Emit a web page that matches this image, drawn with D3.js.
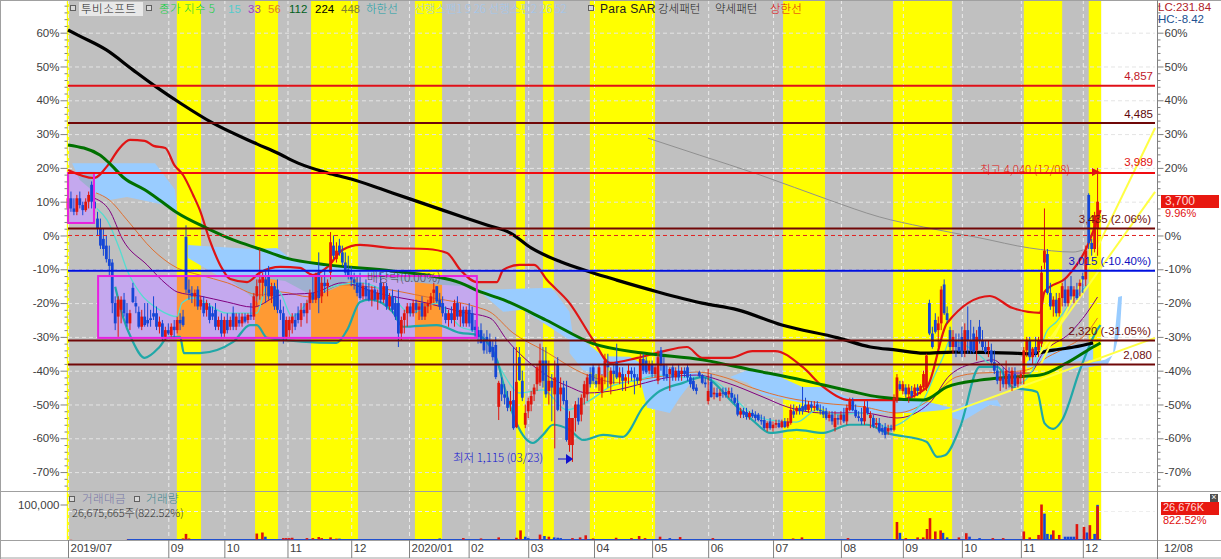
<!DOCTYPE html>
<html><head><meta charset="utf-8">
<script src="https://cdn.jsdelivr.net/npm/d3@7/dist/d3.min.js"></script>
<style>
html,body{margin:0;padding:0;background:#fff;overflow:hidden}
svg{display:block}
text{font-family:"Liberation Sans","Noto Sans CJK KR",sans-serif;font-size:11.5px}
.cjk{font-family:"Noto Sans CJK KR","Liberation Sans",sans-serif;font-weight:300}
</style></head><body><svg id="c" width="1221" height="559"></svg>
<script>
// ---- values (x = trading-session index, y = % from the reference price) ----
const monthLabels=["2019/07","09","10","11","12","2020/01","02","03","04","05","06","07","08","09","10","11","12"];
const monthIdx=[0,34,53,74.4,96,115.6,135.8,156,178.3,198,217,239,262,283,303,323,344];
const yellowBands=[[-0.4,0.4],[36.9,45.1],[63.4,71.2],[82.4,98.3],[117.6,126.8],[151.9,154.9],[161,164.7],[176.9,199],[242.4,256.6],[279.7,299.7],[324,337],[346,350.2]];
const majorPct=[60,50,40,30,20,10,0,-10,-20,-30,-40,-50,-60,-70];
const rightPct=[60,50,40,30,20,0,-10,-20,-30,-40,-50,-60,-70];
const minorPct=[68,66,64,62,58,56,54,52,48,46,44,42,38,36,34,32,28,26,24,22,18,16,14,12,8,6,4,2,-2,-4,-6,-8,-12,-14,-16,-18,-22,-24,-26,-28,-32,-34,-36,-38,-42,-44,-46,-48,-52,-54,-56,-58,-62,-64,-66,-68,-72,-74];
const priceLinesPct=[44.31,33.26,18.5,2.06,-10.4,-31.05,-38.2];
const priceLineColors=["#e01018","#700808","#f00c10","#700808","#0010e0","#700808","#700808"];
const ma224=[[0,60.8],[4,59],[13,54.9],[22,49],[30,43.9],[38,39.2],[49,33.3],[64,27.1],[71,24.4],[78,21.4],[88,18.5],[96,16.7],[106,13.8],[110,12.6],[127,7.5],[142,3.1],[150,0.7],[157,-3.7],[167,-7.8],[177,-10.8],[186,-13.2],[200,-16.7],[215,-20],[227,-22],[242,-26.5],[261,-30.3],[272,-33],[281,-33.9],[290,-34.8],[300,-34.5],[320,-34.8],[326,-35],[334,-33.9],[341,-33],[347.5,-31.8]];
const ma112=[[0,26.8],[10.8,23.8],[14,21.4],[19,17],[26,13.5],[31,10.5],[37,6.7],[47,2.2],[56,-1.3],[65,-4],[74,-6.7],[88,-8.7],[110,-10.5],[133,-14],[139,-16.4],[147.5,-19],[162,-25],[178,-32],[195,-34.8],[215,-36.8],[232,-39.8],[249,-42.8],[265,-46],[275,-47.8],[290,-48.7],[298,-44.8],[309,-42.8],[320,-41.9],[329.5,-41.3],[338.6,-37.7],[347.5,-33],[350,-31.8]];
const upperBand=[[0,19.4],[8.8,17],[13.6,20.9],[17,25.3],[21,28.3],[26,28],[29,26.5],[33,25.9],[36,20.9],[39,17.9],[42.4,12],[44.7,7.5],[48,-1.3],[52.5,-10.2],[55,-12.9],[60.7,-13.8],[65,-11],[72,-9.3],[78.6,-9.6],[83,-11.7],[88,-9.3],[93,-4.3],[99,-2.8],[110,-3.7],[121.7,-4],[128.5,-5.2],[133,-10.2],[138.6,-13.8],[145.4,-13.8],[147.5,-10.2],[153,-8.7],[158,-8.7],[162.4,-13.2],[170,-20],[178,-30.9],[183.7,-37.7],[193,-36.2],[200.7,-34.5],[209.8,-33],[215,-36.2],[224.4,-36.2],[232,-34.2],[239.7,-34.2],[249,-38.9],[256,-44.8],[265,-48.7],[281,-48.7],[291,-45.1],[298,-25.9],[312.5,-17.9],[320,-21.4],[329.5,-22.9],[331,-16.7],[338.6,-12.3],[345.4,-3.4],[350,7.5]];
const lowerBand=[[16,-15.2],[18.6,-24],[21.7,-30.9],[26,-36.2],[31,-33],[33.6,-30.3],[38,-30],[39.3,-34.8],[44.7,-34.8],[56,-31.5],[61.7,-26.5],[64,-26.5],[67.5,-30.3],[91,-31.8],[94.6,-28],[99,-19.7],[102.4,-19],[110,-22.6],[113.6,-27],[125,-26.5],[133,-28.8],[138.6,-29.4],[145.4,-36.8],[147.5,-43.6],[152,-55.5],[157.6,-61.4],[161,-59],[164.4,-56],[170,-57.5],[174.6,-60.5],[181.4,-59],[188,-59.6],[195,-50.7],[199.7,-46.6],[208.5,-43.6],[215,-41.9],[226.8,-50.7],[232,-54.6],[238,-58.4],[247,-57.5],[256,-58.4],[265,-56],[270.8,-56],[277.6,-58.4],[291,-61],[294.6,-65.5],[297.3,-65],[302.4,-56.7],[309,-38.9],[315,-38.9],[320,-44.8],[328.5,-46.3],[331,-55.5],[334,-57.2],[337,-54.6],[343,-39.8],[348.8,-28],[350,-26.5]];
const ma56=[[9.5,12.6],[14,10.5],[20,4.6],[28.8,-4.3],[37,-9.6],[44.7,-11.7],[54,-14],[65,-17.6],[72,-16.7],[82,-18.2],[93,-14.6],[104.7,-15.5],[121.7,-18.2],[138.6,-21.2],[143,-22.6],[150.8,-28.8],[161,-33.9],[176,-41.3],[187,-43.6],[193,-42.8],[204,-41.3],[213,-40.4],[223.4,-42.2],[232,-45.1],[243.7,-48],[256,-49.6],[269.5,-50.7],[281,-52.5],[292,-48.7],[301,-41.9],[309,-40.7],[318,-40.4],[325,-39.8],[332,-36],[338.6,-33],[345.4,-28.8],[349,-24.4]];
const ma33=[[9,11],[14,7.5],[18.6,-1.3],[26.8,-8.7],[33.6,-14.6],[37,-16.7],[44.7,-17.9],[54,-19.7],[62.7,-21.2],[72,-17.6],[83,-17],[93,-14],[104.7,-17],[121.7,-20],[133,-22.6],[143,-24.4],[148.8,-30.9],[161,-40.7],[170,-44.8],[176,-46.6],[186,-45.7],[193,-44.2],[204,-41.9],[213,-41.3],[223.4,-43.6],[235.6,-47.8],[243.7,-50.7],[256,-52.5],[269.5,-52.5],[281,-54],[292,-49.6],[299,-41.3],[309,-37.4],[313.6,-36.8],[320,-40.7],[326,-40.7],[330.5,-34.8],[339.7,-28.8],[345.4,-22.9],[349,-18.2]];
const ma15=[[9.8,8],[13.2,4.6],[17.6,-4.3],[20,-10.2],[24.4,-17],[31,-22],[37,-24],[38.6,-20],[42.4,-18.5],[54,-23],[64,-23],[67.5,-14.6],[72,-17],[76,-24],[82,-19],[92,-14.6],[99,-14],[110,-18.2],[116,-23],[125,-20],[133,-27],[138.6,-28.8],[143,-33],[147.5,-40.7],[153,-46.6],[161,-45.7],[169,-51.6],[177,-48.7],[183.7,-44.8],[193,-42.8],[199.7,-41.3],[208.5,-41.9],[215,-41.9],[224.4,-46.6],[230,-51.6],[238,-54.6],[247,-55.2],[254,-51.6],[260.7,-53],[269.5,-52.5],[277.6,-56.7],[290,-48.7],[293,-42.8],[296.6,-36],[299,-31],[306.8,-33.9],[313.6,-38.9],[322.7,-43.6],[327,-39.8],[332,-28],[335,-25.6],[339.7,-20],[346.4,-14]];
const ma448=[[196.6,28.8],[214,23.8],[234.6,17.9],[258,10.5],[275,5.5],[290,2.5],[309,-0.7],[326,-3.7],[340.7,-4.9],[344,-4.3]];
const trendLow=[[299.7,-52.2],[368.5,-30.3]];
const trendMid=[[328.5,-36],[368.5,12.9]];
const trendHigh=[[329.5,-38.6],[368.5,31.8]];
const cloud1=[[1.4,21.4],[29.5,21.4],[36.3,13.5],[37,6.7],[38.3,5.5],[32.9,9],[20,11.4],[14.2,10.5],[9.2,12.6],[4,16.4]];
const cloud2=[[40.7,-2.8],[45.8,-3.1],[62.7,-4],[70.8,-3.7],[75.3,-6.7],[87.8,-8.7],[110.2,-10.5],[126,-12],[138.6,-15.2],[126,-14.6],[110.2,-13.2],[99,-12.3],[83.7,-18.2],[73.6,-13.5],[65.8,-12.6],[64.4,-20],[60.7,-17],[53.9,-12.6],[50.5,-11.7],[44.7,-8.7],[40.7,-6.7]];
const cloud3=[[139,-16.1],[164,-15.5],[170,-22.6],[171,-28.8],[178,-33.3],[182.7,-36.8],[182.7,-41.9],[174.6,-39.8],[170,-34.8],[170,-30.9],[154.2,-22],[147.5,-22.6]];
const cloud4=[[183,-35.7],[190.5,-35.9],[194,-37.7],[213.2,-40.4],[213.2,-41.3],[207.5,-47.8],[204,-52.5],[196.3,-51],[194,-42.8],[183.7,-40.7]];
const cloud5=[[224.4,-41.9],[232.2,-39.2],[241.4,-41.9],[249,-44.8],[256,-44.8],[265,-48],[288.8,-48.7],[299.7,-51],[296.6,-51.6],[286.4,-52.5],[268.5,-52.5],[260.7,-52.5],[249,-49.6],[235.6,-47.2],[230.2,-43.6]];
const cloud6=[[299.7,-52.2],[304.7,-49.6],[315,-48.7],[316.3,-50.7],[312.5,-50.1],[303.4,-54.9],[300,-54]];
const cloud7=[[325,-37.4],[329.5,-33.9],[347.5,-31.5],[347.5,-36.8],[329.5,-38.3],[325,-39.2]];
const cloud8=[[336.3,-40.4],[347.5,-37.4],[351.5,-36.8],[354.2,-35.4],[356,-18.2],[357.3,-17.9],[356.6,-28],[355,-33.9],[352.5,-38]];
const patternBoxes=[[0,8.8,18.5,3.7],[10.2,138.6,-12,-30.3]];
// open, high, low, close per session
const candles=[[8,12,6,11],[11,13,7,8],[8,11,6,7],[7,12,6,11],[11,13,8,9],[9,10,6,7.5],[7.5,11,7,10],[10,13,8,12],[15,16,8,10],[10,12,6,8],
[5,7,0,2],[2,5,-4,-3],[-1,2,-6,-4],[-3,0,-8,-7],[-7,-3,-12,-9],[-8,-7,-23,-20],[-20,-18,-28,-26],[-24,-18,-30,-19],[-22,-18,-26,-19],[-19,-17,-24,-23],
[-23,-20,-27,-26],[-26,-22,-28,-23],[-15.5,-14,-20,-19.7],[-20,-18,-23,-21],[-22.6,-21,-27.5,-27],[-27,-22,-28,-24],[-24,-20,-27,-26.5],[-25,-20,-27,-26],[-24.5,-22,-27,-25],[-23,-18,-25,-24],
[-23,-21,-28,-27],[-27,-24,-29,-25.5],[-26,-25,-31,-30],[-30,-27,-31,-28],[-28,-26,-29.5,-29],[-29.5,-26,-30,-27],[-27,-25,-30,-28],[-28,-24,-29,-25],[-25,-23,-28,-26],[-24,-22,-27,-26.5],
[-0.4,3,-17,-16],[-16,-13,-19,-17],[-17,-15,-20,-18],[-18,-16,-21,-17],[-16,-15,-22,-21],[-21,-18,-22,-19],[-20,-18,-24,-23],[-22,-19,-24,-20],[-21,-20,-26,-25],[-23,-21,-25,-24],
[-22,-20,-28,-27],[-27,-24,-28,-25],[-25,-23,-30,-29],[-29,-24,-30,-25],[-25,-23,-29,-28],[-27,-24,-28,-25],[-23,-21,-28,-27],[-27,-23,-28,-24],[-25,-23,-27,-26],[-26,-23,-27,-24],
[-24,-23,-26,-25.5],[-25,-23,-26,-23.5],[-23.5,-20,-25,-24],[-24,-17,-25,-18],[-18,-13,-21,-15],[-14,-4,-19,-13],[-14,-11,-18,-12],[-13,-10,-20,-15],[-12,-9,-19,-18],[-18,-14,-20,-15],
[-15,-14,-22,-21],[-16,-13,-23,-22],[-22,-19,-25,-23],[-23,-21,-32,-30],[-30,-24,-31,-25],[-28,-24,-30,-25],[-26,-23,-29,-24],[-25,-23,-28,-27],[-23,-21,-26,-25],[-25,-20,-27,-22],
[-22,-20,-24,-23],[-23,-19,-26,-20],[-20,-16,-22,-17],[-17,-12,-20,-19],[-19,-11,-20,-12],[-11,-5,-23,-18.5],[-18,-12,-20,-14],[-14,-10,-17,-15],[-15,-13,-18,-14],[-11,1,-13,-2],
[-3,0,-7,-6],[-7,-2,-8,-4.5],[-3,-1,-6,-5],[-5,-3,-9,-8],[-8,-5,-12,-11],[-10,-6,-13,-12],[-12,-9,-15,-13],[-13,-11,-16,-14],[-14,-12,-18,-17],[-14,-11,-19,-18.5],
[-18,-14,-19,-15],[-15,-13,-19,-18],[-16,-14,-19.5,-19],[-19,-15,-21,-16],[-16,-15,-19.5,-19],[-19,-16,-22,-17],[-14,-11,-20,-19],[-19,-14,-20,-15],[-15,-14,-22,-21],[-21,-17,-22,-18],
[-18,-16,-23,-22],[-20,-18,-25,-24],[-20,-16,-33,-29],[-29,-24,-31,-25],[-25,-22,-29,-23],[-23,-20,-27,-21],[-21,-20,-24,-23],[-23,-19,-24,-20],[-20,-19,-23,-22],[-22,-20,-25,-21],
[-20,-18,-25,-24],[-24,-20,-25,-21],[-21,-19,-23,-20],[-20,-17,-22,-18],[-17,-14,-20,-16],[-15,-15,-20,-19.5],[-19,-17,-22,-21],[-20,-18,-24,-23],[-23,-21,-26,-25],[-25,-22,-27,-23],
[-23,-21,-26,-25],[-25,-19,-27,-20],[-20,-18,-25,-24],[-24,-20,-27,-22],[-22,-21,-27,-26],[-26,-21,-27,-22],[-22,-20,-27,-26],[-23,-21,-28.5,-28],[-27,-25,-30,-28],[-28,-27,-32,-30],
[-28,-26,-32,-31.8],[-31,-29,-35,-34],[-30,-28,-35,-31],[-31,-29,-35,-34.5],[-33,-31,-37,-36],[-32.4,-30,-42.5,-41.9],[-50.7,-43,-54.6,-43.6],[-44,-42,-49,-47],[-47,-44,-50,-48],[-48,-46,-52,-51],
[-50,-46,-52,-49],[-48.7,-33,-57.5,-57],[-56.7,-33,-57,-43.3],[-36,-33,-43,-42.8],[-43,-40,-49,-48],[-56,-50,-57,-52.5],[-52,-48,-54,-49],[-50,-46,-52,-47.5],[-47,-44,-49,-45],[-44,-38,-46,-39],
[-43.5,-32,-44.5,-37],[-37,-33,-45,-43],[-37,-33,-48,-47],[-46,-37,-50,-43],[-43,-41,-55,-45],[-47,-37,-63,-42],[-38,-36,-52,-51.6],[-47,-42,-52,-45],[-45,-43,-50,-49],[-48.7,-43,-61,-60.5],
[-62,-52,-64,-54],[-62,-54,-67,-54],[-54,-49,-58,-50],[-50,-48,-56,-55],[-53,-47,-55,-48],[-48,-43,-50,-44],[-47,-41,-49,-42],[-41,-39,-45,-44],[-39,-38,-44,-43],[-43,-41,-45,-44],
[-44,-38,-46,-39],[-46.6,-41,-48,-42],[-42,-35,-44,-37],[-38,-35,-45,-39],[-44,-39,-47,-40],[-40,-38,-44,-41],[-37.5,-32,-42.5,-42],[-42,-39,-44,-40.5],[-41,-39,-46,-43],[-43,-41,-46,-42],
[-41,-38,-44,-40],[-40,-39,-43,-41],[-41,-39,-47,-42],[-42,-41,-44,-43],[-43,-35,-45,-36.5],[-36.5,-35,-41,-40],[-37,-36,-41,-40.5],[-40,-37,-41,-38],[-38,-37,-42,-41],[-41,-38,-42,-39],
[-43,-34,-44,-36],[-34,-33,-40,-38.5],[-38,-36,-43,-41.5],[-41,-38,-43,-42],[-41,-39,-46,-39.5],[-39,-38,-43,-42],[-42,-39,-43,-40],[-40,-38,-43,-42],[-41,-39,-43,-40],[-40,-39,-42,-41],
[-39,-38,-43,-42],[-42,-41,-45,-44],[-43,-42,-46,-45.5],[-45,-44,-47,-46],[-40.5,-40,-42,-41.5],[-41.3,-41,-44,-43.6],[-43.5,-42,-45,-44],[-49,-39.5,-50,-46],[-43.3,-41,-48,-47.8],[-47,-45,-48.5,-46.5],
[-46.6,-45,-48,-47.8],[-47.5,-45.5,-49,-46.5],[-46.5,-45,-48,-46.8],[-46.3,-45,-48,-47.2],[-47,-45,-48,-46],[-46.6,-45,-49,-48],[-48,-47,-50,-49.5],[-49.6,-47,-53.5,-53],[-53,-51,-54,-52],[-52,-51,-54,-53],
[-52.2,-51,-54.5,-53.7],[-53.7,-52,-54.5,-52.5],[-52.5,-51.5,-54,-53.5],[-53,-52,-55,-54],[-53,-52.5,-55,-54.6],[-54.6,-53,-56,-55],[-54.6,-53.5,-57.5,-57],[-57,-55,-58,-55.5],[-55,-54,-57.5,-57],[-57,-55,-58,-56],
[-56,-54.5,-57,-55.5],[-55.5,-54.5,-57,-56.7],[-56.7,-54.5,-57,-55],[-55,-54,-57,-56.7],[-56.5,-54,-57,-55],[-55.5,-50,-56,-51.6],[-52,-50,-54,-53],[-52,-50.5,-53,-51],[-51,-50,-53,-52],[-50.5,-44.8,-53,-52],
[-50,-48,-52,-51.6],[-51.6,-49,-52.5,-50],[-50,-49,-52,-51],[-51,-49,-52,-50.5],[-50,-49,-52,-51.6],[-51.6,-50,-53,-52],[-52,-50.5,-54,-53],[-52,-51,-54.5,-54],[-54,-52,-55,-53],[-53,-52,-56,-55],
[-56.7,-52,-58,-54],[-54,-53,-56,-54.5],[-54.5,-52,-56,-53],[-53,-51,-55.5,-55],[-55,-50,-56,-51],[-51.6,-48,-52,-49],[-49,-48,-52,-51.7],[-51.6,-50,-54,-53.5],[-53.5,-52,-55,-54],[-54,-51,-56,-55],
[-55,-49,-56,-50.5],[-51,-49,-53,-52.5],[-54,-52,-57,-53],[-54,-53,-57,-56.5],[-56,-54,-57,-55.5],[-55.5,-54,-58.5,-58],[-57,-56,-59,-58],[-56.7,-55.5,-60,-59],[-58,-56,-59,-57],[-57,-56,-58,-57.5],
[-57.5,-47,-58,-48],[-48.7,-41,-49.5,-42],[-44,-43,-46,-45.5],[-46,-43,-47,-44],[-45,-44,-48,-47],[-47,-44,-49.5,-45],[-46,-44.5,-48,-47.5],[-47,-44,-48,-45],[-45,-44,-47.5,-46],[-46,-44,-47,-44.5],
[-45,-40,-46,-41],[-45,-35,-46,-35.5],[-20,-19,-29.5,-29],[-29,-27,-33.5,-33],[-25,-23,-29,-28.5],[-28,-24,-33,-26],[-26,-15,-28,-16],[-14.5,-13,-23.5,-23],[-23,-21,-26,-25],[-28,-27,-34,-33],
[-33,-28,-35,-30],[-31,-29,-36,-33],[-33,-29,-34.5,-34],[-30,-27,-36,-35],[-34,-26,-36,-28],[-28,-21,-35,-31],[-31,-25,-35,-34],[-29,-27,-35,-34.5],[-34,-28,-37,-30],[-27,-25,-32,-31],
[-31,-28,-34,-33],[-33,-31,-35,-34.5],[-34,-31,-36,-33],[-34,-32,-38,-37.5],[-37.5,-34,-41,-40],[-40,-38,-44,-43],[-43,-40,-46,-42],[-42,-39,-45,-44],[-44,-37,-45.5,-40],[-41,-39,-45,-44],
[-44,-39,-46,-40],[-41,-39,-45,-44.5],[-44,-41,-45,-42],[-42,-40,-44,-41],[-41,-33,-44,-34],[-34,-30,-36,-31],[-31,-30,-37,-36],[-36,-33,-38,-33.5],[-33,-30,-36,-35],[-34,-30,-36,-31],
[-32,-9,-33,-11],[-8,8,-10,-4.5],[-5.5,-4,-17.5,-17],[-17,-14,-22,-21],[-21,-18,-24,-19],[-19,-17,-24,-23],[-23,-17,-24,-18.5],[-18.5,-14,-21,-15],[-16,-13,-21,-20],[-20,-15,-21,-16],
[-15,-12,-19,-18],[-18,-15,-20,-16],[-16,-14,-19,-18.5],[-15,-13,-18,-14],[-12,-11,-17,-13],[-13,-3,-15,-4.5],[12,12.5,-4,-2.2],[-2.2,-1,-6,-4],[-4,7,-5,6],[2,20,-6,10]];
// session index, trading value (bars in the lower panel)
const volumeRed=[[1,600],[20,500],[39,3000],[40,16000],[41,3000],[64,17000],[65.9,20000],[73,4000],[74,4000],[75,4000],[76,5000],[81,4000],[83,4000],[85,7000],[86,4000],[89,6000],[91,2500],[134,4000],[140,3000],[146,6000],[152,5000],[153.4,26000],[160,14000],[163,8000],[171,4000],[173.6,6000],[175.5,12000],[178,3000],[185.8,5000],[191,4000],[193.6,10000],[195.6,4000],[200.7,8000],[207.5,7000],[218.6,4000],[245.8,3000],[248.8,6000],[264.4,4000],[281,50000],[284,4000],[288,6000],[289.9,6000],[291.2,30000],[292.2,61000],[294,23000],[295.8,26000],[302,6000],[304.5,18000],[313.5,4000],[317,4000],[324,23000],[326,6000],[329,13000],[330,100000],[334,26000],[336,13000],[342,44000],[344.4,36000],[346.4,41000],[349,95000]];
const volumeBlue=[[66.9,8000],[92,2500],[126,3000],[155,8000],[156,4000],[161.5,10000],[164.8,6000],[166,5000],[167,4000],[204,4000],[282,19000],[296.6,19000],[298,6000],[305.6,8000],[309,4000],[331,74000],[332,16000],[333.3,14000],[338,8000],[339,8000],[340,8000],[341,8000],[345.4,20000],[348,16000],[349,99000]];
const volTicks=[100000];

// ---- scales ----
const W=1221,H=559;
const x=d3.scaleLinear().domain([0,368.47]).range([68,1155]);
const y=d3.scaleLinear().domain([69.67,-75.6]).range([0,491]);
const v=d3.scaleLinear().domain([0,100000]).range([539.5,504.5]);
const svg=d3.select("#c");
const TOP=0,MID=491,VT=492,VB=540;
const plotR=x(350.2);

// ---- backgrounds ----
function bg(y0,y1){
  svg.append("rect").attr("x",x(0)).attr("y",y0).attr("width",plotR-x(0)).attr("height",y1-y0).attr("fill","#c0c0c0");
  svg.append("g").selectAll("rect").data(yellowBands).join("rect")
    .attr("x",d=>x(d[0])).attr("width",d=>x(d[1])-x(d[0])).attr("y",y0).attr("height",y1-y0).attr("fill","#ffff00");
}
bg(TOP,MID);bg(VT,VB);

// grid
const grid=svg.append("g");
grid.selectAll(".h").data(majorPct.filter(d=>d!==0)).join("line").attr("x1",x(0)).attr("x2",1155)
  .attr("y1",d=>y(d)+.5).attr("y2",d=>y(d)+.5).attr("stroke",d=>"#e4e4e4").attr("stroke-dasharray","4,3");
grid.selectAll(".v").data(monthIdx).join("line").attr("x1",d=>x(d)+.5).attr("x2",d=>x(d)+.5)
  .attr("y1",0).attr("y2",VB).attr("stroke","#ebebeb").attr("stroke-dasharray","4,3");
grid.append("line").attr("x1",x(0)).attr("x2",1155).attr("y1",511.5).attr("y2",511.5).attr("stroke","#eeeeee").attr("stroke-dasharray","4,3");

// cloud
const poly=d3.line().x(d=>x(d[0])).y(d=>y(d[1]));
const clouds=[cloud1,cloud2,cloud3,cloud4,cloud5,cloud6,cloud7,cloud8];
svg.append("g").selectAll("path").data(clouds).join("path").attr("d",d=>poly(d)+"Z").attr("fill","#99ccff");

// pattern boxes
const defs=svg.append("defs");
patternBoxes.forEach((b,k)=>{
  defs.append("clipPath").attr("id","box"+k).append("rect")
   .attr("x",x(b[0])).attr("y",y(b[2])).attr("width",x(b[1])-x(b[0])).attr("height",y(b[3])-y(b[2]));
  const g=svg.append("g").attr("clip-path",`url(#box${k})`);
  g.append("rect").attr("x",x(b[0])).attr("y",y(b[2])).attr("width",x(b[1])-x(b[0])).attr("height",y(b[3])-y(b[2])).attr("fill","#c4a8ee");
  g.selectAll(".o").data(yellowBands).join("rect").attr("x",d=>x(d[0])).attr("width",d=>x(d[1])-x(d[0]))
    .attr("y",y(b[2])).attr("height",y(b[3])-y(b[2])).attr("fill","#ff9a33");
  g.selectAll(".c").data(clouds).join("path").attr("d",d=>poly(d)+"Z").attr("fill","#9fb0d0");
});

// moving averages and bands
const smooth=d3.line().curve(d3.curveMonotoneX).x(d=>x(d[0])).y(d=>y(d[1]));
const lines=[[ma448,"#909090",1],[ma56,"#e07030",1],[ma33,"#800080",1],[ma15,"#55dcd0",1.3],[lowerBand,"#20a8a8",2.2],[upperBand,"#e01414",2.2],[ma112,"#007000",3],[ma224,"#000000",3.2],[trendLow,"#ffff44",2],[trendMid,"#ffff44",2],[trendHigh,"#ffff44",2]];
svg.append("g").attr("fill","none").selectAll("path").data(lines).join("path")
  .attr("d",d=>smooth(d[0])).attr("stroke",d=>d[1]).attr("stroke-width",d=>d[2]);

// candles
const UP="#e0140c",DN="#1546d6";
const cg=svg.append("g").selectAll("g").data(candles).join("g");
cg.append("line").attr("x1",(d,i)=>x(i)).attr("x2",(d,i)=>x(i)).attr("y1",d=>y(d[1])).attr("y2",d=>y(d[2]))
  .attr("stroke",d=>d[3]>=d[0]?UP:DN).attr("stroke-width",1);
cg.append("rect").attr("x",(d,i)=>x(i)-1.4).attr("width",2.8)
  .attr("y",d=>y(Math.max(d[0],d[3]))).attr("height",d=>Math.max(1,Math.abs(y(d[0])-y(d[3]))))
  .attr("fill",d=>d[3]>=d[0]?UP:DN);

// pattern box outlines
svg.append("g").selectAll("rect").data(patternBoxes).join("rect")
  .attr("x",d=>x(d[0])).attr("y",d=>y(d[2])).attr("width",d=>x(d[1])-x(d[0])).attr("height",d=>y(d[3])-y(d[2]))
  .attr("fill","none").attr("stroke","#e820e0").attr("stroke-width",2);

// price lines
svg.append("g").selectAll("line").data(priceLinesPct).join("line").attr("x1",x(0)).attr("x2",1155)
  .attr("y1",d=>y(d)).attr("y2",d=>y(d)).attr("stroke",(d,i)=>priceLineColors[i]).attr("stroke-width",2);
svg.append("line").attr("x1",x(0)).attr("x2",1155).attr("y1",y(0)).attr("y2",y(0)).attr("stroke","#e02020").attr("stroke-dasharray","4,3");

// volume
svg.append("line").attr("x1",x(20)).attr("x2",plotR).attr("y1",v(0)).attr("y2",v(0)).attr("stroke","#2050d0");
const volG=svg.append("g");
volG.selectAll(".b").data(volumeBlue).join("rect").attr("x",d=>x(d[0])-1.3).attr("width",2.6)
  .attr("y",d=>v(d[1])).attr("height",d=>v(0)-v(d[1])).attr("fill",DN);
volG.selectAll(".r").data(volumeRed).join("rect").attr("x",d=>x(d[0])-1.3).attr("width",2.6)
  .attr("y",d=>v(d[1])).attr("height",d=>v(0)-v(d[1])).attr("fill",UP);

// frame lines
const fr="#a0a0a0";
svg.append("line").attr("x1",0).attr("x2",W).attr("y1",.5).attr("y2",.5).attr("stroke",fr);
svg.append("line").attr("x1",.5).attr("x2",.5).attr("y1",0).attr("y2",H).attr("stroke",fr);
svg.append("line").attr("x1",0).attr("x2",W).attr("y1",MID+.5).attr("y2",MID+.5).attr("stroke",fr);
svg.append("line").attr("x1",0).attr("x2",W).attr("y1",VB+.5).attr("y2",VB+.5).attr("stroke",fr);
svg.append("line").attr("x1",0).attr("x2",W).attr("y1",H-1).attr("y2",H-1).attr("stroke",fr);
svg.append("line").attr("x1",1157.5).attr("x2",1157.5).attr("y1",0).attr("y2",H).attr("stroke","#808080");

// axes
function styleAxis(g){g.selectAll("path").remove();g.selectAll("line").attr("stroke","#808080");g.selectAll("text").attr("fill","#404040");}
svg.append("g").attr("transform","translate(67.5,0)").call(d3.axisLeft(y).tickValues(majorPct).tickSize(7).tickPadding(1).tickFormat(d=>d+"%")).attr("font-family",null).attr("font-size",null).call(styleAxis);
svg.append("g").attr("transform","translate(67.5,0)").call(d3.axisLeft(y).tickValues(minorPct).tickSize(3).tickFormat("")).call(styleAxis);
svg.append("g").attr("transform","translate(1157.5,0)").call(d3.axisRight(y).tickValues(rightPct).tickSize(6).tickPadding(1).tickFormat(d=>d+"%")).attr("font-family",null).attr("font-size",null).call(styleAxis);
svg.append("g").attr("transform","translate(1157.5,0)").call(d3.axisRight(y).tickValues(minorPct).tickSize(3).tickFormat("")).call(styleAxis);
svg.append("g").attr("transform","translate(67.5,0)").call(d3.axisLeft(v).tickValues(volTicks).tickSize(7).tickPadding(1).tickFormat(d3.format(","))).attr("font-family",null).attr("font-size",null).call(styleAxis);
const xa=svg.append("g").attr("transform",`translate(0,${VB})`).call(d3.axisBottom(x).tickValues(monthIdx).tickSize(18).tickFormat((d,i)=>monthLabels[i])).attr("font-family",null).attr("font-size",null).call(styleAxis);
xa.selectAll("text").attr("text-anchor","start").attr("x",2).attr("y",3).attr("dy","0.8em");

// texts
function T(t,px,py,col,o={}){const e=svg.append("text").attr("x",px).attr("y",py).attr("fill",col).attr("dominant-baseline","middle").text(t);
  if(o.a)e.attr("text-anchor",o.a); if(o.cjk)e.attr("class","cjk"); if(o.s)e.style("font-size",o.s+"px"); if(o.ls)e.style("letter-spacing",o.ls+"px"); return e;}
function mark(px,py){svg.append("rect").attr("x",px-2.5).attr("y",py-2.5).attr("width",5).attr("height",5).attr("fill","#d8d8d8").attr("stroke","#606060");}
const LY=10;
mark(73,8);
svg.append("rect").attr("x",79).attr("y",2).attr("width",64).attr("height",14).attr("fill","#e8e8e8");
T("투비소프트",81,LY,"#202020",{cjk:1,s:11.5,ls:.5});
mark(149,8);
T("종가 지수 5",159,LY,"#10d040",{cjk:1,s:11.5,ls:.4});
T("15",228,LY,"#55cccc",{});
T("33",248,LY,"#a040c0",{});
T("56",268,LY,"#e08020",{});
T("112",289,LY,"#006020",{});
T("224",315,LY,"#000000",{});
T("448",341,LY,"#808030",{});
T("하한선",366,LY,"#20a0a8",{cjk:1,s:11.5});
T("선행스팬1  9  26 선행스팬2  26  52",414,LY,"#a0c8f0",{cjk:1,s:11.5});
mark(591,8);
T("Para SAR",600,LY,"#202020",{s:12,ls:.3});
T("강세패턴",658,LY,"#202020",{cjk:1,s:11.5});
T("약세패턴",715,LY,"#202020",{cjk:1,s:11.5});
T("상한선",770,LY,"#e01010",{cjk:1,s:11.5});
T("LC:231.84",1158,8,"#b02028");
T("HC:-8.42",1158,20,"#205090");
T("4,857",1153,77,"#c01828",{a:"end"});
T("4,485",1153,115,"#600808",{a:"end"});
T("3,989",1153,163,"#e01010",{a:"end"});
T("최고 4,040 (12/08)",980,171,"#e01010",{cjk:1,s:11.5});
T("3,435 (2.06%)",1151,220,"#701010",{a:"end"});
T("3,015 (-10.40%)",1151,262,"#1010c0",{a:"end"});
T("2,320 (-31.05%)",1151,332,"#701010",{a:"end"});
T("2,080",1152,356,"#701010",{a:"end"});
T("배당락(0.00%)",367,279,"#504050",{cjk:1,s:12});
T("최저 1,115 (03/23)",453,459,"#1010d0",{cjk:1,s:11.5});
// arrows
svg.append("path").attr("d","M1092,168L1100,172L1092,176Z").attr("fill","#e01010");
svg.append("line").attr("x1",558).attr("x2",568).attr("y1",459).attr("y2",459).attr("stroke","#1010d0");
svg.append("path").attr("d","M566,454L573,459L566,464Z").attr("fill","#1010d0");
// right tags
svg.append("rect").attr("x",1161).attr("y",195).attr("width",58).attr("height",13).attr("fill","#e81810");
T("3,700",1165,201.5,"#ffd8d8",{s:12});
T("9.96%",1165,214,"#e01010",{s:11});
svg.append("rect").attr("x",1161).attr("y",502).attr("width",58).attr("height",13).attr("fill","#e81810");
T("26,676K",1163,508,"#ffd8d8",{s:11});
T("822.52%",1163,521,"#e01010",{s:11});
svg.append("rect").attr("x",1210).attr("y",494).attr("width",8).attr("height",8).attr("fill","#505050");
T("×",1214,498,"#ffffff",{a:"middle",s:9});
T("12/08",1164,549,"#404040");
// volume panel legend
mark(72,499);
T("거래대금",82,500,"#7878a8",{cjk:1,s:11.5,ls:.4});
mark(137,499);
T("거래량",146,500,"#408890",{cjk:1,s:11.5,ls:.4});
T("26,675,665주(822.52%)",72,514,"#303030",{cjk:1,s:11});
</script></body></html>
